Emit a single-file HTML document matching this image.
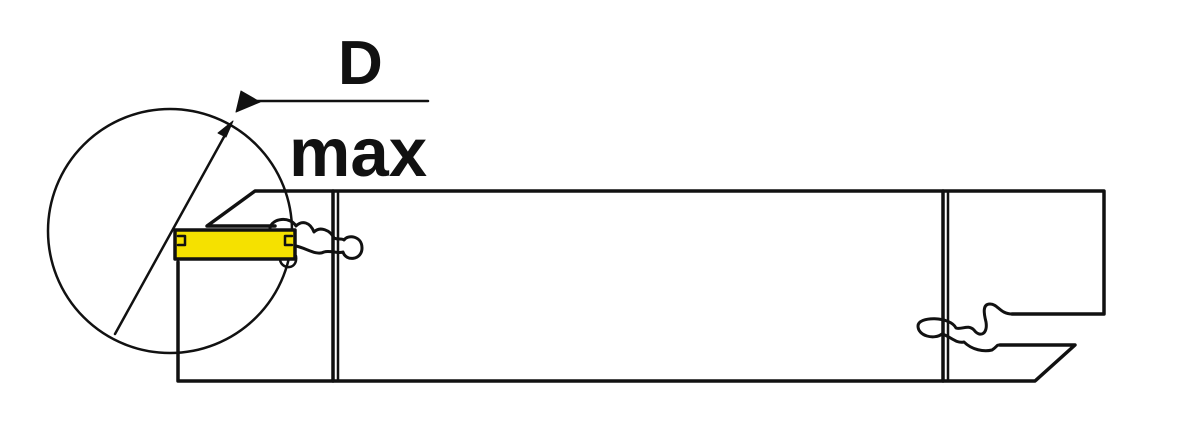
<!DOCTYPE html>
<html><head><style>body{margin:0;background:#fff}</style></head><body>
<svg width="1198" height="421" viewBox="0 0 1198 421" xmlns="http://www.w3.org/2000/svg" fill="none" stroke="#111" stroke-linejoin="round" stroke-linecap="round">
<circle cx="170" cy="231" r="122" stroke-width="2.5"/>
<line x1="115" y1="334" x2="230" y2="126" stroke-width="2.5"/>
<polygon points="233,121 218,133 226,137" fill="#111" stroke-width="1"/>
<line x1="252" y1="101" x2="428" y2="101" stroke-width="2.5"/>
<polygon points="236,112 241,91 260,102" fill="#111" stroke-width="1"/>
<text x="338" y="84" font-family="Liberation Sans, sans-serif" font-weight="bold" font-size="62" fill="#111" stroke="none">D</text>
<text x="289" y="176" font-family="Liberation Sans, sans-serif" font-weight="bold" font-size="69" fill="#111" stroke="none">max</text>
<g stroke-width="3.5">
<polyline points="275,226 207,226 255,191 1104,191 1104,314 1012,314"/>
<polyline points="1000,345 1075,345 1035,381 178,381 178,262"/>
<line x1="333" y1="191" x2="333" y2="381"/>
<line x1="338" y1="191" x2="338" y2="381" stroke-width="2.5"/>
<line x1="943" y1="191" x2="943" y2="381"/>
<line x1="948" y1="191" x2="948" y2="381" stroke-width="2.5"/>
<path d="M270,228 C272,218 290,216 296,226 C302,220 310,222 314,232 C320,226 330,230 334,238 C338,240 342,238 344,240 C348,234 362,236 362,248 C362,260 346,262 343,252 C338,254 330,250 324,252 C316,256 306,248 296,246" stroke-width="3"/>
<path d="M296,256 C298,270 282,270 280,260" stroke-width="2.5"/>
<path d="M1012,314 C1000,314 998,304 990,304 C982,304 984,314 986,322 C988,334 980,338 974,330 C968,324 962,330 956,328 C950,316 918,316 918,326 C918,336 934,340 942,334 C950,336 956,344 964,342 C972,350 984,352 992,350 C998,346 996,345 1000,345" stroke-width="3"/>
</g>
<rect x="175" y="230" width="120" height="29" fill="#f5e100" stroke="#111" stroke-width="3.5"/>
<path d="M178,236 h7 v9 h-7 M292,236 h-7 v9 h7" stroke-width="2.5"/>
</svg>
</body></html>
